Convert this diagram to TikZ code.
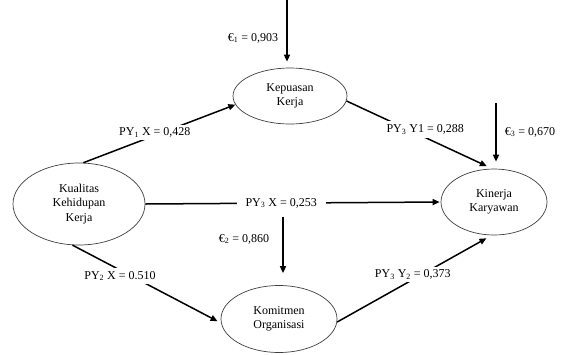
\documentclass[tikz,border=0pt]{standalone}
\usepackage{fontspec}
\setmainfont{Liberation Serif}
\usetikzlibrary{shapes.geometric,arrows.meta}
\tikzset{
  var/.style={ellipse,draw=black!75,line width=0.7pt,inner sep=0pt,align=center,
    font=\fontsize{12}{14.5}\selectfont},
  path/.style={line width=1.5pt,-{Triangle[length=7pt,width=6pt]}},
  coef/.style={fill=white,inner sep=3pt,font=\fontsize{12}{13}\selectfont},
  err/.style={inner sep=0pt,font=\fontsize{12}{13}\selectfont},
}
\newcommand{\sbs}[1]{\textsubscript{#1}}
\begin{document}
\begin{tikzpicture}[x=1pt,y=-1pt]
\useasboundingbox[fill=white] (0,0) rectangle (564,354);
% variables
\node[var,minimum width=114pt,minimum height=56pt] (kep) at (290,96) {Kepuasan\\Kerja};
\node[var,minimum width=132pt,minimum height=82pt] (kual) at (79,204) {Kualitas\\Kehidupan\\Kerja};
\node[var,minimum width=106pt,minimum height=66pt] (kin) at (494,202) {Kinerja\\Karyawan};
\node[var,minimum width=116pt,minimum height=67pt] (kom) at (279,319) {Komitmen\\Organisasi};
% error terms
\coordinate (e1s) at (287,0);
\coordinate (e3s) at (496,103);
\coordinate (e2s) at (283,217);
\draw[path,shorten >=6pt] (e1s) -- (e1s |- kep.north);
\node[err] (e1) at (253,38) {€\sbs{1} = 0,903};
\draw[path,shorten >=7pt] (e3s) -- (e3s |- kin.north);
\node[err] (e3) at (530,132) {€\sbs{3} = 0,670};
\draw[path,shorten >=12pt] (e2s) -- (e2s |- kom.north);
\node[err] (e2) at (244,239) {€\sbs{2} = 0,860};
% paths
\draw[path] (kual.84) -- (kep.189)
  node[coef,pos=0.47,yshift=3pt] {PY\sbs{1} X = 0,428};
\draw[path,shorten >=6pt] (kep.355) -- (kin.93)
  node[coef,pos=0.54,yshift=8pt,inner sep=4pt] {PY\sbs{3} Y1 = 0,288};
\draw[path,shorten >=1pt] (kual.east) -- (kin.west)
  node[coef,pos=0.46,inner xsep=9pt] {PY\sbs{3} X = 0,253};
\draw[path,shorten >=4pt] (kual.261) -- (kom.184)
  node[coef,pos=0.32,yshift=-6pt] {PY\sbs{2} X = 0.510};
\draw[path,shorten >=6pt] (kom.357) -- (kin.266)
  node[coef,pos=0.49,yshift=5pt] {PY\sbs{3} Y\sbs{2} = 0,373};
\end{tikzpicture}
\end{document}
